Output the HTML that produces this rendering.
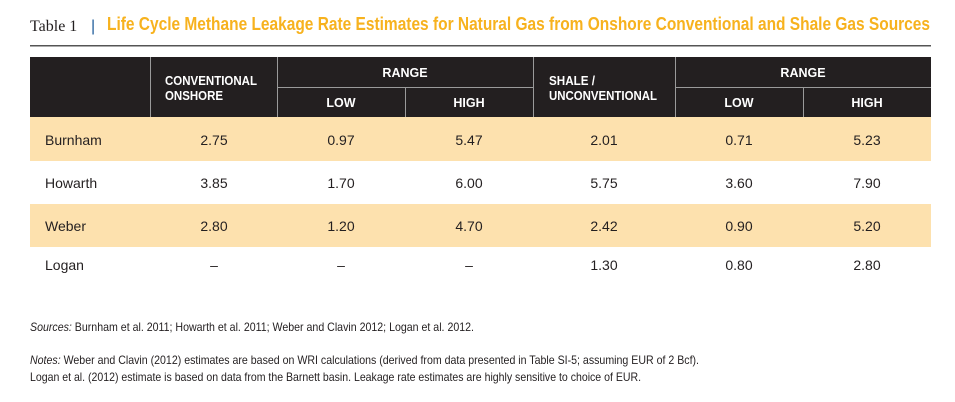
<!DOCTYPE html>
<html><head><meta charset="utf-8"><style>
html,body{margin:0;padding:0;background:#fff;width:955px;height:402px;overflow:hidden}
svg{display:block}
</style></head><body>
<svg width="955" height="402" xmlns="http://www.w3.org/2000/svg" font-family="Liberation Sans, sans-serif">
<text x="30" y="31" font-family="Liberation Serif, serif" font-size="16" fill="#231f20">Table 1</text>
<text x="91" y="31" font-size="16" fill="#1f5d9a">|</text>
<text x="107" y="30" font-size="18" font-weight="bold" fill="#f7b21e" textLength="823" lengthAdjust="spacingAndGlyphs">Life Cycle Methane Leakage Rate Estimates for Natural Gas from Onshore Conventional and Shale Gas Sources</text>
<rect x="30" y="45" width="901" height="1.5" fill="#555"/>
<rect x="30" y="57" width="901" height="60" fill="#231f20"/>
<g stroke="#9a9a9a" stroke-width="1">
<line x1="150.5" y1="57" x2="150.5" y2="117"/><line x1="277.5" y1="57" x2="277.5" y2="117"/>
<line x1="405.5" y1="87" x2="405.5" y2="117"/><line x1="533.5" y1="57" x2="533.5" y2="117"/>
<line x1="675.5" y1="57" x2="675.5" y2="117"/><line x1="803.5" y1="87" x2="803.5" y2="117"/>
<line x1="277" y1="87.5" x2="533" y2="87.5"/><line x1="675" y1="87.5" x2="931" y2="87.5"/>
</g>
<g fill="#fff" font-size="12.5" font-weight="bold">
<text x="165" y="85" textLength="92" lengthAdjust="spacingAndGlyphs">CONVENTIONAL</text>
<text x="165" y="100" textLength="58" lengthAdjust="spacingAndGlyphs">ONSHORE</text>
<text x="405" y="77" text-anchor="middle">RANGE</text>
<text x="341" y="107" text-anchor="middle">LOW</text>
<text x="469" y="107" text-anchor="middle">HIGH</text>
<text x="549" y="85" textLength="46" lengthAdjust="spacingAndGlyphs">SHALE /</text>
<text x="549" y="100" textLength="108" lengthAdjust="spacingAndGlyphs">UNCONVENTIONAL</text>
<text x="803" y="77" text-anchor="middle">RANGE</text>
<text x="739" y="107" text-anchor="middle">LOW</text>
<text x="867" y="107" text-anchor="middle">HIGH</text>
</g>
<rect x="30" y="117" width="901" height="44" fill="#fde1ae"/>
<rect x="30" y="204" width="901" height="43" fill="#fde1ae"/>
<g fill="#231f20" font-size="14">
<g transform="translate(0,145)">
<text x="45">Burnham</text><text x="214" text-anchor="middle">2.75</text><text x="341" text-anchor="middle">0.97</text><text x="469" text-anchor="middle">5.47</text><text x="604" text-anchor="middle">2.01</text><text x="739" text-anchor="middle">0.71</text><text x="867" text-anchor="middle">5.23</text></g>
<g transform="translate(0,188)">
<text x="45">Howarth</text><text x="214" text-anchor="middle">3.85</text><text x="341" text-anchor="middle">1.70</text><text x="469" text-anchor="middle">6.00</text><text x="604" text-anchor="middle">5.75</text><text x="739" text-anchor="middle">3.60</text><text x="867" text-anchor="middle">7.90</text></g>
<g transform="translate(0,231)">
<text x="45">Weber</text><text x="214" text-anchor="middle">2.80</text><text x="341" text-anchor="middle">1.20</text><text x="469" text-anchor="middle">4.70</text><text x="604" text-anchor="middle">2.42</text><text x="739" text-anchor="middle">0.90</text><text x="867" text-anchor="middle">5.20</text></g>
<g transform="translate(0,270)">
<text x="45">Logan</text><text x="214" text-anchor="middle">–</text><text x="341" text-anchor="middle">–</text><text x="469" text-anchor="middle">–</text><text x="604" text-anchor="middle">1.30</text><text x="739" text-anchor="middle">0.80</text><text x="867" text-anchor="middle">2.80</text></g>
</g>
<g fill="#231f20" font-size="12">
<text x="30" y="331" textLength="444" lengthAdjust="spacingAndGlyphs"><tspan font-style="italic">Sources:</tspan> Burnham et al. 2011; Howarth et al. 2011; Weber and Clavin 2012; Logan et al. 2012.</text>
<text x="30" y="364" textLength="669" lengthAdjust="spacingAndGlyphs"><tspan font-style="italic">Notes:</tspan> Weber and Clavin (2012) estimates are based on WRI calculations (derived from data presented in Table SI-5; assuming EUR of 2 Bcf).</text>
<text x="30" y="381" textLength="611" lengthAdjust="spacingAndGlyphs">Logan et al. (2012) estimate is based on data from the Barnett basin.  Leakage rate estimates are highly sensitive to choice of EUR.</text>
</g>
</svg>
</body></html>
